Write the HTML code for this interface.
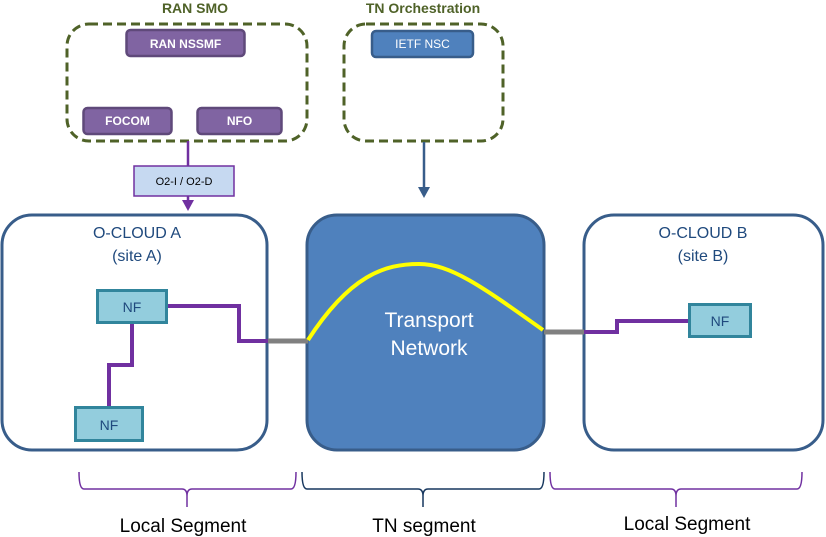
<!DOCTYPE html>
<html><head><meta charset="utf-8"><style>
html,body{margin:0;padding:0;background:#fff;width:826px;height:537px;overflow:hidden}
text{font-family:"Liberation Sans",Arial,sans-serif}
</style></head><body>
<svg width="826" height="537" viewBox="0 0 826 537" xmlns="http://www.w3.org/2000/svg">
<text x="195" y="13" text-anchor="middle" font-size="14" font-weight="bold" fill="#4f6228">RAN  SMO</text>
<text x="423" y="13" text-anchor="middle" font-size="14" font-weight="bold" fill="#4f6228">TN Orchestration</text>
<rect x="67" y="24" width="240" height="117" rx="22" fill="none" stroke="#4f6228" stroke-width="3" stroke-dasharray="9,5"/>
<rect x="344" y="24" width="159" height="117" rx="22" fill="none" stroke="#4f6228" stroke-width="3" stroke-dasharray="9,5"/>
<rect x="126.5" y="30" width="118" height="26" rx="4" fill="#8064a2" stroke="#5f497a" stroke-width="2.5"/>
<text x="185.5" y="48" text-anchor="middle" font-size="12" font-weight="bold" fill="#fff">RAN NSSMF</text>
<rect x="83.5" y="108" width="88" height="26" rx="4" fill="#8064a2" stroke="#5f497a" stroke-width="2.5"/>
<text x="127.5" y="125" text-anchor="middle" font-size="12" font-weight="bold" fill="#fff">FOCOM</text>
<rect x="197.5" y="108" width="84" height="26" rx="4" fill="#8064a2" stroke="#5f497a" stroke-width="2.5"/>
<text x="239.5" y="125" text-anchor="middle" font-size="12" font-weight="bold" fill="#fff">NFO</text>
<rect x="372" y="31" width="101" height="26" rx="4" fill="#4f81bd" stroke="#385d8a" stroke-width="2.5"/>
<text x="422.5" y="48" text-anchor="middle" font-size="12" fill="#fff">IETF NSC</text>
<line x1="188" y1="141" x2="188" y2="203" stroke="#7030a0" stroke-width="2.5"/>
<rect x="134" y="166" width="100" height="30" fill="#c6d9f1" stroke="#7030a0" stroke-width="1.5"/>
<text x="184" y="185" text-anchor="middle" font-size="11" fill="#000">O2-I / O2-D</text>
<polygon points="182,200 194,200 188,211" fill="#7030a0"/>
<line x1="424" y1="142" x2="424" y2="188" stroke="#385d8a" stroke-width="2.5"/>
<polygon points="418,187 430,187 424,198" fill="#385d8a"/>
<rect x="2" y="215" width="265" height="235" rx="30" fill="#fff" stroke="#385d8a" stroke-width="3"/>
<rect x="584" y="215" width="239" height="235" rx="30" fill="#fff" stroke="#385d8a" stroke-width="3"/>
<rect x="307" y="215" width="237" height="235" rx="30" fill="#4f81bd" stroke="#385d8a" stroke-width="3"/>
<text x="137" y="238" text-anchor="middle" font-size="16" fill="#1f497d">O-CLOUD A</text>
<text x="137" y="261" text-anchor="middle" font-size="16" fill="#1f497d">(site A)</text>
<text x="703" y="238" text-anchor="middle" font-size="16" fill="#1f497d">O-CLOUD B</text>
<text x="703" y="261" text-anchor="middle" font-size="16" fill="#1f497d">(site B)</text>
<text x="429" y="327" text-anchor="middle" font-size="21" fill="#fff">Transport</text>
<text x="429" y="355" text-anchor="middle" font-size="21" fill="#fff">Network</text>
<polyline points="167,306 239,306 239,341 268,341" fill="none" stroke="#7030a0" stroke-width="4"/>
<polyline points="132,323 132,365 109,365 109,407" fill="none" stroke="#7030a0" stroke-width="4"/>
<line x1="268" y1="341" x2="308" y2="341" stroke="#808080" stroke-width="5"/>
<line x1="544" y1="332" x2="584" y2="332" stroke="#808080" stroke-width="5"/>
<polyline points="584,332 617,332 617,321 689,321" fill="none" stroke="#7030a0" stroke-width="4"/>
<path d="M308,340 C350,275 385,264 419,264 C450,264 480,285 543,330" fill="none" stroke="#ffff00" stroke-width="4"/>
<rect x="97.5" y="290.5" width="69" height="32" fill="#93cddd" stroke="#31859c" stroke-width="3"/>
<text x="132" y="312" text-anchor="middle" font-size="14" fill="#1f497d">NF</text>
<rect x="75.5" y="407.5" width="67" height="33" fill="#93cddd" stroke="#31859c" stroke-width="3"/>
<text x="109" y="430" text-anchor="middle" font-size="14" fill="#1f497d">NF</text>
<rect x="689.5" y="304.5" width="61" height="32" fill="#93cddd" stroke="#31859c" stroke-width="3"/>
<text x="720" y="326" text-anchor="middle" font-size="14" fill="#1f497d">NF</text>
<path d="M79,472 Q79,489 84,489 L182,489 Q187,489 187,496 L187,507 M187,496 Q187,489 192,489 L291,489 Q296,489 296,472" fill="none" stroke="#7030a0" stroke-width="1.5"/>
<path d="M302,472 Q302,489 307,489 L418,489 Q423,489 423,496 L423,507 M423,496 Q423,489 428,489 L539,489 Q544,489 544,472" fill="none" stroke="#17375e" stroke-width="1.5"/>
<path d="M550,472 Q550,489 555,489 L671,489 Q676,489 676,496 L676,507 M676,496 Q676,489 681,489 L797,489 Q802,489 802,472" fill="none" stroke="#7030a0" stroke-width="1.5"/>
<text x="183" y="532" text-anchor="middle" font-size="19" fill="#000">Local Segment</text>
<text x="424" y="532" text-anchor="middle" font-size="19" fill="#000">TN  segment</text>
<text x="687" y="530" text-anchor="middle" font-size="19" fill="#000">Local Segment</text>
</svg>
</body></html>
